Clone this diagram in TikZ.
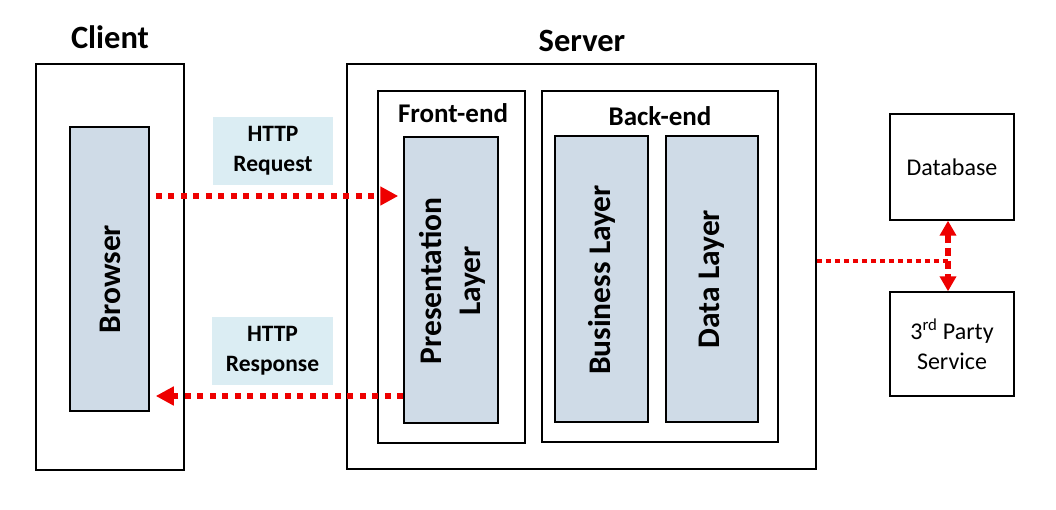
\documentclass[tikz,border=0pt]{standalone}
\usepackage{fontspec}
\setmainfont{Carlito}
\usetikzlibrary{arrows.meta}
\definecolor{layerfill}{RGB}{207,219,231}
\definecolor{httpfill}{RGB}{219,237,243}
\definecolor{arrred}{RGB}{238,0,0}
\tikzset{
  outerbox/.style={draw=black, line width=1.6pt, fill=white, inner sep=0pt},
  layerbox/.style={draw=black, line width=1.5pt, fill=layerfill, inner sep=0pt},
  httpbox/.style={fill=httpfill, draw=none, inner sep=0pt, align=center, font=\fontsize{23.5}{30}\selectfont\bfseries},
  plainbox/.style={draw=black, line width=1.4pt, fill=white, inner sep=0pt, align=center, font=\fontsize{24}{30}\selectfont},
  title/.style={font=\fontsize{32.5}{36}\selectfont\bfseries, inner sep=0pt},
  subtitle/.style={font=\fontsize{27}{32}\selectfont\bfseries, inner sep=0pt},
  layertext/.style={rotate=90, align=center, inner sep=0pt, font=\fontsize{31.5}{39}\selectfont\bfseries},
  bigdots/.style={draw=arrred, line width=6pt, dash pattern=on 6pt off 6.5pt, -{Triangle[length=18pt,width=18pt]}},
  smalldots/.style={draw=arrred, line width=4pt, dash pattern=on 5pt off 4pt},
  vdots/.style={draw=arrred, line width=5.5pt, dash pattern=on 8pt off 5pt, {Triangle[length=15pt,width=16pt]}-{Triangle[length=15pt,width=16pt]}}
}
\begin{document}
\begin{tikzpicture}[x=1pt,y=-1pt]
\useasboundingbox[fill=white] (0,0) rectangle (1056,509);
% titles
\node[title] (clienttitle) at (110,37) {Client};
\node[title] (servertitle) at (582,41) {Server};
% client
\node[outerbox, minimum width=148pt, minimum height=406pt] (client) at (110,267) {};
\node[layerbox, minimum width=79pt, minimum height=284pt] (browser) at (109.5,269) {};
\node[layertext] (browsertext) at (110,279) {Browser};
% server
\node[outerbox, minimum width=469pt, minimum height=405pt] (server) at (581.5,266.5) {};
\node[outerbox, line width=1.4pt, minimum width=147pt, minimum height=352pt] (front) at (451.5,267) {};
\node[outerbox, line width=1.4pt, minimum width=236pt, minimum height=351pt] (back) at (660,266.5) {};
\node[subtitle] (fronttitle) at (453,113) {Front-end};
\node[subtitle] (backtitle) at (660,116) {Back-end};
\node[layerbox, minimum width=94pt, minimum height=286pt] (pres) at (451,280) {};
\node[layerbox, minimum width=93pt, minimum height=286pt] (bus) at (601.5,279) {};
\node[layerbox, minimum width=92pt, minimum height=286pt] (data) at (712,279) {};
\node[layertext] (prestext) at (452,281) {Presentation\\Layer};
\node[layertext] (bustext) at (601.5,280) {Business Layer};
\node[layertext] (datatext) at (712,279) {Data Layer};
% http labels
\node[httpbox, minimum width=120pt, minimum height=68pt] (req) at (273,151) {HTTP\\Request};
\node[httpbox, minimum width=121pt, minimum height=68pt] (resp) at (272.5,351) {HTTP\\Response};
% right side
\node[plainbox, minimum width=124pt, minimum height=106pt] (db) at (952,167) {Database};
\node[plainbox, minimum width=124pt, minimum height=104pt] (tp) at (952,344) {3\textsuperscript{rd} Party\\Service};
% arrows
\coordinate (rq) at (0,196);
\coordinate (rs) at (0,396);
\coordinate (j) at (948,261);
\draw[bigdots, shorten <=6pt, shorten >=5pt] (browser.east |- rq) -- (pres.west |- rq);
\draw[bigdots, shorten >=6pt] (pres.west |- rs) -- (browser.east |- rs);
\draw[smalldots] (server.east |- j) -- (j);
\draw[vdots] (db.south -| j) -- (tp.north -| j);
\end{tikzpicture}
\end{document}
